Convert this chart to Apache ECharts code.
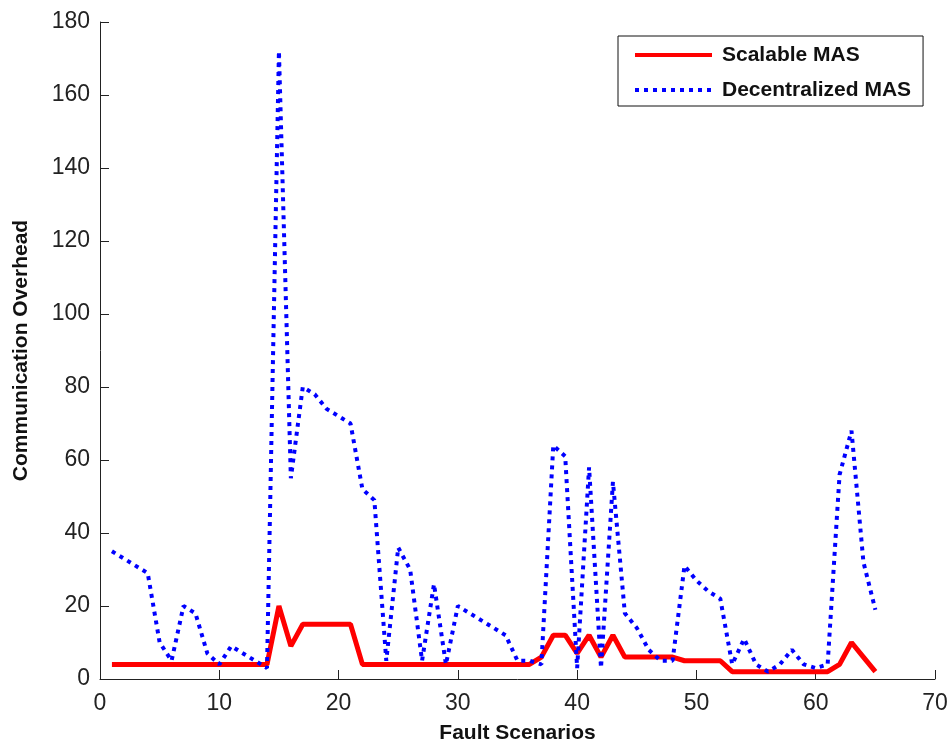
<!DOCTYPE html>
<html>
<head>
<meta charset="utf-8">
<script src="https://cdn.jsdelivr.net/npm/echarts@6/dist/echarts.min.js"></script>
<style>html,body{margin:0;padding:0;background:#fff;}#chart{width:951px;height:742px;}</style>
</head>
<body>
<div id="chart"></div>
<script>
const scenarios = [1,2,3,4,5,6,7,8,9,10,11,12,13,14,15,16,17,18,19,20,21,22,23,24,25,26,27,28,29,30,31,32,33,34,35,36,37,38,39,40,41,42,43,44,45,46,47,48,49,50,51,52,53,54,55,56,57,58,59,60,61,62,63,64,65];
const scalableMAS = [4,4,4,4,4,4,4,4,4,4,4,4,4,4,20,9,15,15,15,15,15,4,4,4,4,4,4,4,4,4,4,4,4,4,4,4,6,12,12,7,12,6,12,6,6,6,6,6,5,5,5,5,2,2,2,2,2,2,2,2,2,4,10,6,2];
const decentralizedMAS = [35,33,31,29,10,5,20,18,7,4,9,7,5,3,172,55,80,78,74,72,70,52,49,5,36,30,5,26,4,20,18,16,14,12,5,5,4,64,61,3,58,3,54,18,14,8,5,5,31,27,24,22,4,11,4,2,4,8,4,3,4,56,68,32,19];
const xTicks = [0,10,20,30,40,50,60,70];
const yTicks = [0,20,40,60,80,100,120,140,160,180];
const seriesNames = ['Scalable MAS','Decentralized MAS'];

const pair = (vals) => scenarios.map((s, i) => [s, vals[i]]);
const font = 'Liberation Sans, Arial, sans-serif';

const chart = echarts.init(document.getElementById('chart'), null, {renderer: 'canvas'});
chart.setOption({
  animation: false,
  backgroundColor: '#ffffff',
  grid: {left: 100, right: 16, top: 22, bottom: 63, containLabel: false, outerBoundsMode: 'none'},
  xAxis: {
    type: 'value', min: xTicks[0], max: xTicks[xTicks.length-1], interval: 10,
    name: 'Fault Scenarios', nameLocation: 'middle', nameGap: 44,
    nameTextStyle: {fontFamily: font, fontWeight: 'bold', fontSize: 21, color: '#111'},
    axisLine: {show: true, lineStyle: {color: '#222', width: 1}},
    axisTick: {show: true, inside: true, length: 9, lineStyle: {color: '#222'}},
    axisLabel: {fontFamily: font, fontSize: 23, color: '#222', margin: 13},
    splitLine: {show: false}
  },
  yAxis: {
    type: 'value', min: yTicks[0], max: yTicks[yTicks.length-1], interval: 20,
    name: 'Communication Overhead', nameLocation: 'middle', nameGap: 68, nameRotate: 90,
    nameTextStyle: {fontFamily: font, fontWeight: 'bold', fontSize: 21, color: '#111'},
    axisLine: {show: true, lineStyle: {color: '#222', width: 1}},
    axisTick: {show: true, inside: true, length: 9, lineStyle: {color: '#222'}},
    axisLabel: {fontFamily: font, fontSize: 23, color: '#222', margin: 10},
    splitLine: {show: false}
  },
  legend: {
    orient: 'vertical', left: 618, top: 36,
    padding: [8, 12, 5, 15],
    backgroundColor: '#fff', borderColor: '#111', borderWidth: 1,
    itemWidth: 77, itemHeight: 14, itemGap: 13,
    itemStyle: {opacity: 0},
    lineStyle: {width: 4},
    textStyle: {fontFamily: font, fontWeight: 'bold', fontSize: 21, color: '#111', lineHeight: 22, padding: [0,0,0,5]},
    data: seriesNames
  },
  series: [
    {
      name: seriesNames[0], type: 'line', data: pair(scalableMAS),
      symbol: 'none', smooth: false,
      lineStyle: {color: '#ff0000', width: 5, type: 'solid'},
      itemStyle: {color: '#ff0000'}, z: 2
    },
    {
      name: seriesNames[1], type: 'line', data: pair(decentralizedMAS),
      symbol: 'none', smooth: false,
      lineStyle: {color: '#0000ff', width: 4, type: [4, 5], cap: 'butt'},
      itemStyle: {color: '#0000ff'}, z: 3
    }
  ]
});
</script>
</body>
</html>
